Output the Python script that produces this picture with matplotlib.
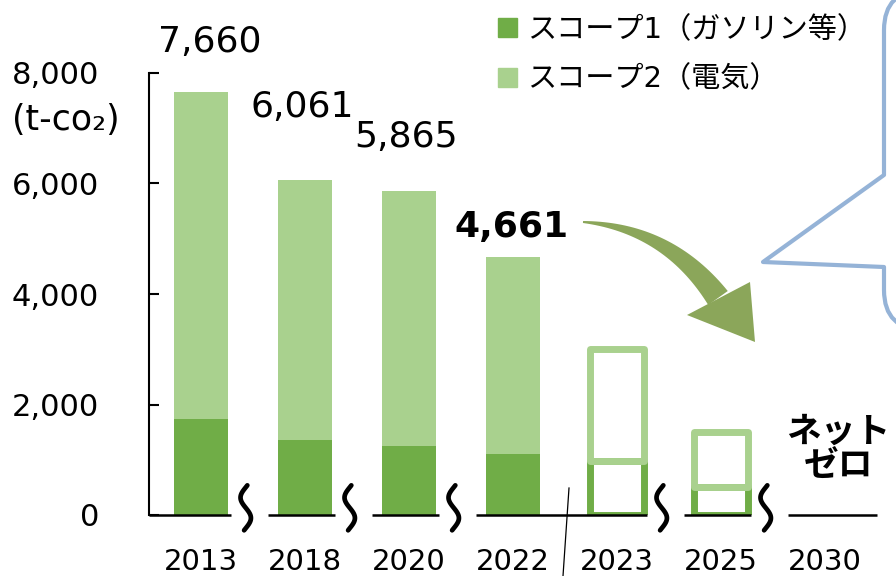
import numpy as np
import matplotlib
matplotlib.use("Agg")
import matplotlib.pyplot as plt
from matplotlib.path import Path
from matplotlib.patches import PathPatch, Polygon, Patch

plt.rcParams['font.family'] = ['DejaVu Sans', 'Noto Sans CJK JP']

# データ
years = ['2013', '2018', '2020', '2022', '2023', '2025', '2030']
scope1 = [1740, 1360, 1250, 1100, 980, 500, 0]
scope2 = [5920, 4701, 4615, 3561, 2020, 1000, 0]
totals = ['7,660', '6,061', '5,865', '4,661']
n_actual = 4  # 2013-2022 は実績, 以降は目標
labels = ['スコープ1（ガソリン等）', 'スコープ2（電気）']
yticks = [0, 2000, 4000, 6000, 8000]

c_dark = '#70AD47'
c_light = '#A9D18E'
c_arrow = '#8BA65A'
c_bubble = '#95B3D7'

W, H = 896, 576
fig = plt.figure(figsize=(W / 100, H / 100), dpi=100)
ax = fig.add_axes([149 / W, 61 / H, 728 / W, 442 / H])


def px(x, y):
    return (x / W, 1 - y / H)


x = np.arange(len(years))
bw = 0.51

# 実績
ax.bar(x[:n_actual], scope1[:n_actual], bw, color=c_dark, zorder=2)
ax.bar(x[:n_actual], scope2[:n_actual], bw, bottom=scope1[:n_actual], color=c_light, zorder=2)

# 目標（枠のみ）
tx = x[n_actual:-1]
ax.bar(tx, scope1[n_actual:-1], bw, facecolor='white', edgecolor=c_dark, linewidth=5,
       joinstyle='round', zorder=3)
ax.bar(tx, scope2[n_actual:-1], bw, bottom=scope1[n_actual:-1], facecolor='none',
       edgecolor=c_light, linewidth=5, joinstyle='round', zorder=4)

# 合計ラベル
offsets = [36, 53, 39, 22]
for i, (t, off) in enumerate(zip(totals, offsets)):
    top = scope1[i] + scope2[i]
    dx = 6 if i == 0 else (-2 if i != 3 else -1)
    ax.annotate(t, (x[i], top), xytext=(dx, off), textcoords='offset points',
                ha='center', va='center', fontsize=26,
                fontweight='bold' if i == n_actual - 1 else 'normal')

ax.text(6.13, 1200, 'ネット\nゼロ', ha='center', va='center', fontsize=25,
        fontweight='bold', linespacing=1.0, family=['Noto Sans CJK JP'])

ax.set_xlim(-0.5, 6.5)
ax.set_ylim(0, 8000)
ax.set_yticks(yticks)
ax.set_yticklabels([f'{v:,}' for v in yticks])
ax.set_xticks(x)
ax.set_xticklabels(years)
ax.tick_params(axis='y', direction='in', length=7, width=1.5, pad=36, labelsize=22)
ax.tick_params(axis='x', length=0, pad=24, labelsize=21)
for s in ['top', 'right', 'bottom']:
    ax.spines[s].set_visible(False)
ax.spines['left'].set_linewidth(1.5)

fig.text(*px(12, 120), '(t-co₂)', ha='left', va='center', fontsize=25)

# 横軸（省略記号つき）
breaks = [0, 1, 2, 4, 5]
edges = [-0.5]
for b in breaks:
    edges += [b + 0.29, b + 0.64]
edges.append(6.5)
for a, b in zip(edges[::2], edges[1::2]):
    ax.plot([a, b], [0, 0], color='black', lw=1.8, clip_on=False, zorder=5,
            solid_capstyle='butt')
t = np.linspace(-0.05, 1.05, 60)
for b in breaks:
    cx = b + 0.43
    ax.plot(cx - 0.05 * np.sin(2 * np.pi * t), 500 - t * 740, color='black', lw=3.4,
            clip_on=False, zorder=5, solid_capstyle='round')

# 実績と目標の区切り線
fig.add_artist(plt.Line2D([569 / W, 563 / W], [1 - 488 / H, 0], color='black', lw=0.9))

# 矢印
p0, p1, p2 = np.array([583, 222.]), np.array([668, 228.]), np.array([718, 298.])
s = np.linspace(0, 1, 40)[:, None]
pts = (1 - s) ** 2 * p0 + 2 * (1 - s) * s * p1 + s ** 2 * p2
tan = 2 * (1 - s) * (p1 - p0) + 2 * s * (p2 - p1)
nrm = np.column_stack([-tan[:, 1], tan[:, 0]])
nrm /= np.linalg.norm(nrm, axis=1)[:, None]
w = 1 + 11 * s
body = np.vstack([pts + nrm * w, (pts - nrm * w)[::-1]])
fig.add_artist(Polygon([px(*q) for q in body], closed=True, color=c_arrow, lw=0))
fig.add_artist(Polygon([px(687, 315), px(750, 282), px(755, 342)], closed=True,
                       color=c_arrow, lw=0))

# 吹き出し
verts = [(960, 330), (925, 330), (884, 330), (884, 290), (884, 267), (763, 262),
         (884, 175), (884, 30), (884, -10), (925, -10), (960, -10)]
codes = [Path.MOVETO, Path.LINETO, Path.CURVE3, Path.CURVE3, Path.LINETO, Path.LINETO,
         Path.LINETO, Path.LINETO, Path.CURVE3, Path.CURVE3, Path.LINETO]
fig.add_artist(PathPatch(Path([px(*v) for v in verts], codes), facecolor='white',
                         edgecolor=c_bubble, lw=3, joinstyle='round'))

# 凡例
handles = [Patch(color=c_dark), Patch(color=c_light)]
fig.legend(handles, labels, loc='upper left', bbox_to_anchor=px(498, 16), frameon=False,
           fontsize=21, handlelength=0.65, handleheight=0.65, handletextpad=0.35,
           labelspacing=0.74, borderpad=0, borderaxespad=0)

fig.savefig('out.png', dpi=100)
